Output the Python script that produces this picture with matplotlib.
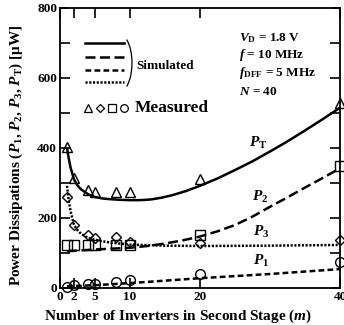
import matplotlib
matplotlib.use("Agg")
import matplotlib.pyplot as plt
from matplotlib.patches import Arc
from matplotlib.ticker import MultipleLocator

plt.rcParams['font.family'] = ['Liberation Serif', 'DejaVu Serif']
plt.rcParams['font.weight'] = 'bold'
plt.rcParams['mathtext.fontset'] = 'custom'
plt.rcParams['mathtext.rm'] = 'Liberation Serif:bold'
plt.rcParams['mathtext.it'] = 'Liberation Serif:italic:bold'
plt.rcParams['mathtext.bf'] = 'Liberation Serif:bold'

# ---- data ----
m_meas = [1, 2, 4, 5, 8, 10, 20, 40]
PT_meas = [404, 314, 280, 275, 273, 273, 311, 528]
P2_meas = [123, 123, 123, 123, 123, 123, 151, 349]
P3_meas = [260, 180, 151, 143, 146, 131, 129, 137]
P1_meas = [3, 8, 11, 11, 17, 23, 40, 74]

m_PT = [1, 1.25, 1.5, 2, 2.5, 3, 4, 5, 6, 7, 8.5, 10, 11.5, 13, 14.5, 16, 18, 20,
        22.5, 25, 27.5, 30, 32.5, 35, 37.5, 40]
PT_sim = [400, 370, 345, 310, 293, 282, 268, 260, 256, 254, 252, 251, 251, 253, 258,
          265, 277, 292, 313, 337, 362, 390, 419, 450, 482, 515]

m_P2 = [1, 5, 10, 12.5, 15, 17.5, 20, 22.5, 25, 27.5, 30, 32.5, 35, 37.5, 40]
P2_sim = [105, 110, 115, 120, 127, 136, 147, 162, 180, 204, 232, 259, 287, 314, 342]

m_P3 = [1, 1.25, 1.5, 2, 2.5, 3, 4, 5, 6.5, 8, 10, 15, 20, 30, 40]
P3_sim = [292, 250, 220, 180, 165, 155, 143, 138, 132, 128, 124, 121, 120, 121, 123]

m_P1 = [1, 5, 10, 15, 20, 25, 30, 35, 40]
P1_sim = [5, 8, 14, 21, 28, 34, 40, 47, 54]

xticks = [0, 2, 5, 10, 20, 40]
yticks = [0, 200, 400, 600, 800]

# ---- figure ----
W, H = 344, 325
fig = plt.figure(figsize=(W / 100, H / 100), dpi=100)
ax = fig.add_axes([60 / W, 1 - 288 / H, 280 / W, 280 / H])

lw = 1.8
ax.plot(m_PT, PT_sim, color='k', lw=lw, solid_capstyle='butt')
ax.plot(m_P2, P2_sim, color='k', lw=lw, dashes=(4.0, 1.8))
ax.plot(m_P1, P1_sim, color='k', lw=lw, dashes=(2.3, 1.3))
ax.plot(m_P3, P3_sim, color='k', lw=lw, dashes=(0.85, 0.65))

mk = dict(ls='none', mfc='none', mec='k', mew=1.0, clip_on=False, zorder=5)
ax.plot(m_meas, PT_meas, marker='^', ms=7.5, **mk)
ax.plot(m_meas, P2_meas, marker='s', ms=7, **mk)
ax.plot(m_meas, P3_meas, marker='D', ms=5.5, **mk)
ax.plot(m_meas, P1_meas, marker='o', ms=7, **mk)

ax.set_xlim(0, 40)
ax.set_ylim(0, 800)
ax.set_xticks(xticks)
ax.set_yticks(yticks)
ax.yaxis.set_minor_locator(MultipleLocator(100))
ax.tick_params(axis='both', which='both', direction='in', top=True, right=True,
               width=1.2, labelsize=9.5, pad=2)
ax.tick_params(axis='both', which='major', length=7)
ax.tick_params(axis='y', which='minor', length=7)
for s in ax.spines.values():
    s.set_linewidth(1.3)

# legend (drawn manually)
tr = ax.transAxes
def px(x, y):
    return ((x - 60) / 280, (288 - y) / 280)

for y, d in [(43, None), (57, (4.0, 1.8)), (70, (2.3, 1.3)), (82, (0.85, 0.65))]:
    x0, yy = px(85, y)
    x1, _ = px(124, y)
    kw = dict(color='k', lw=lw, transform=tr)
    if d:
        kw['dashes'] = d
    ax.plot([x0, x1], [yy, yy], **kw)
cx, cy = px(119, 63)
ax.add_patch(Arc((cx, cy), 26 / 280, 58 / 280, theta1=-72, theta2=72,
                 transform=tr, color='k', lw=0.9))
ax.text(*px(136, 66), 'Simulated', transform=tr, fontsize=9.5, va='center', ha='left')

for x, m, s in [(88, '^', 6), (100, 'D', 4.5), (112, 's', 5.5), (124, 'o', 5.5)]:
    ax.plot([px(x, 0)[0]], [px(0, 108)[1]], marker=m, ms=s, mfc='none', mec='k',
            mew=0.9, transform=tr, clip_on=False)
ax.text(*px(135, 108), 'Measured', transform=tr, fontsize=12.5, va='center', ha='left')

# conditions
for y, t in [(38, r'$V_{\mathrm{D}}$ = 1.8 V'), (55, r'$f$ = 10 MHz'),
             (73, r'$f_{\mathrm{DFF}}$ = 5 MHz'), (92, r'$N$ = 40')]:
    ax.text(*px(239, y), t, transform=tr, fontsize=9.5, va='center', ha='left')

# curve labels
for x, y, t in [(258, 143, r'$P_{\mathrm{T}}$'), (260, 197, r'$P_2$'),
                (261, 232, r'$P_3$'), (261, 261, r'$P_1$')]:
    ax.text(*px(x, y), t, transform=tr, fontsize=11, va='center', ha='center')

fig.text(178 / W, 1 - 316 / H, r'Number of Inverters in Second Stage ($m$)',
         fontsize=11, ha='center', va='center')
fig.text(16 / W, 1 - 155 / H,
         r'Power Dissipations ($P_1$, $P_2$, $P_3$, $P_{\mathrm{T}}$) [μW]',
         fontsize=11, ha='center', va='center', rotation=90)

fig.savefig('out.png', dpi=100)
